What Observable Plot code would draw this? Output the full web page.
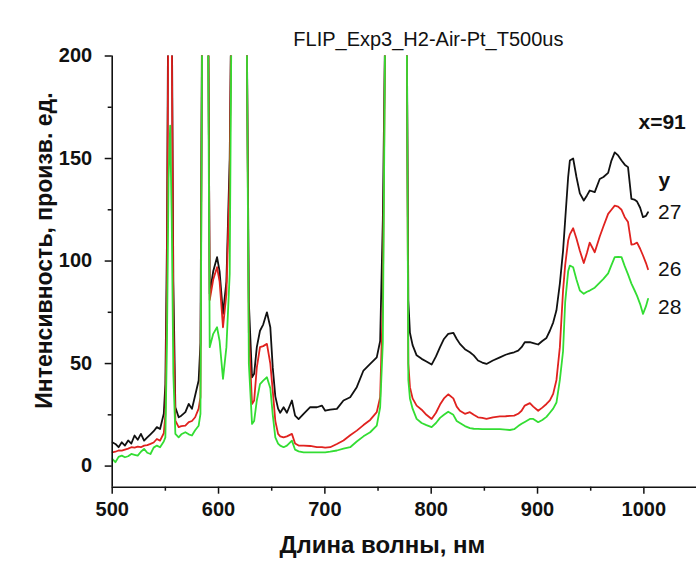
<!DOCTYPE html>
<html><head><meta charset="utf-8">
<script src="https://cdn.jsdelivr.net/npm/d3@7"></script>
<script src="https://cdn.jsdelivr.net/npm/@observablehq/plot@0.6"></script>
<style>body{margin:0;background:#fff} svg{display:block}</style>
</head><body><div id="chart"></div>
<script>
const wavelength = [
 500,503,506,509,512,515,518,521,524,527,530,533,536,539,542,545,548.5,
 550,551.5,553,554.5,556,557.5,559.4,
 562.5,565,568.8,572,575,578,581.3,583,584.5,
 586.5,589.5,591.7,
 595,598.6,601,604.2,607.4,610.5,612.7,
 616,620,624,626.5,628.5,631.5,
 633.5,636,639,642,645.5,648.7,651,653.4,656,658,661.2,
 664.3,669,672,675.3,680,686.2,692.5,697.2,700.3,705,711.3,717.5,723.8,730,736.3,742.6,748.8,752,754.5,
 756.8,760,765,770,775,777,778.5,
 780,782.5,786.3,791,795.5,800.4,804.5,808.3,812,816,
 820.8,824,827,831.7,836.4,840,844,848,852,858,
 864.6,870,874,878,881.8,885,888,892.8,896,900.6,
 904.5,908.4,911.6,914.7,917.8,921,924,926,928.8,930.4,
 933.5,936.6,939.8,943.5,946.5,949.1,953.8,958.5,962,966.4,
 969.5,972.6,975.8,979,982,985.1,988.3,991,993.6,996.5,
 999.2,1002,1003.9
];
const y27 = [
 11.6,10.8,9.2,11.6,10,12.5,11,14.9,12.8,15.7,12.4,14,15.5,17,19,18.1,25.5,
 40,110,260,320,230,90,28.7,
 23.8,24.6,26.3,30.3,27.9,34.4,41.7,60,220,
 500,300,84,
 95,101.9,95,74.2,90,150,260,
 500,500,400,220,80,43.3,
 45,58,66,69,75,67.7,48,34,28,26,28.7,
 26,32,24.6,22.9,25.5,28.7,28.7,29.5,27,27.5,27.9,32,33.6,38.5,46.6,49.8,53,61,120,
 220,600,700,600,400,220,80.7,
 65,59,54,52.3,51,49.5,53.5,58,62,64.5,
 65,62,59.6,57,55.5,54,51.5,50.5,49.8,51.5,
 53,54.3,55,55.5,56.3,58,60.4,60.4,60,59.3,
 61,62.5,66,70,76,89,105,120,141,149,
 150,141,133,129.5,132,134.4,133.6,140,141,143,
 149,153,151.5,149,147,145.8,130.3,130,129,126,
 121.4,122,123.8
];
const y26 = [
 6.7,7,7.6,7.5,8,8.5,9.2,9,9.5,9.2,10,10.2,10.8,11.5,13.2,12.4,16,
 25,90,240,300,215,70,22.2,
 19,19.5,19.7,21.4,22,23.8,28,33.6,210,
 500,300,81,
 91,97,90,67.7,84,140,260,
 500,500,400,220,65,30.3,
 32,48,58,58.5,59.6,50,36.8,22,15.7,14.5,14,
 14.5,15.7,11,10,10,9.8,9.2,9.2,9,9.2,10.8,12.5,15,17.3,20,22.5,26.3,33.6,80,
 220,600,700,600,400,220,50,
 38.5,33,29.5,27.5,25,23,26,30,33,35,
 33,29,27,25.5,26.3,25,23.8,23.5,23,23.8,
 24.2,24.3,24.5,24.6,25.5,27,29.5,30.7,29,27,
 28.5,30.3,32,35.2,42,58,85.6,98,110,113,
 116,111,105,99,104,109,104.3,112,117,123,
 125,127,126.5,125,121.4,119,108,108.3,109,106,
 102.7,99,96
];
const y28 = [
 3.5,1.9,4.5,5.1,4.3,4.8,5.9,5.5,5.1,7,8.4,6.5,5.9,9,10,9.2,12,
 14,60,140,166,120,45,15.7,
 14,15.5,16.5,15.5,14.9,17.5,19.7,25.5,200,
 500,280,58,
 64.5,67.7,61,42.5,58,93.7,260,
 500,500,400,220,50,20.6,
 22,32,40,41.7,43.3,38,25,14,11,10,9.2,
 10,12.4,8,7.2,6.7,6.7,6.7,6.7,6.7,7,7.6,8.5,9.2,12,14.5,16.5,19.7,28.7,60,
 220,600,700,600,400,220,42,
 33,28,23,21,20,19,21,23.5,25,26.5,
 25,22,21,19.5,18.5,18.2,18.1,18,18,18,
 18,17.8,17.6,18,19.5,20.6,21.5,23,23,21.4,
 22.5,24,26,28,31,42,56,80,95,97.8,
 97,91,85.6,84,85,85.6,87,89.5,91.3,94,
 98,101.9,102,101.9,97.5,93.5,89,86,83,79,
 74.2,78,81.5
];
const seriesNames = ["27", "26", "28"];
const seriesColors = ["#111111", "#e0221f", "#33dd33"];
const xTicks = [500, 600, 700, 800, 900, 1000];
const xMinorTicks = [550, 650, 750, 850, 950];
const yTicks = [0, 50, 100, 150, 200];
const yMinorTicks = [25, 75, 125, 175];
const xDomain = [500, 1049.5];
const yDomain = [-10.3, 200];
const titleText = "FLIP_Exp3_H2-Air-Pt_T500us";
const xLabel = "Длина волны, нм";
const yLabel = "Интенсивность, произв. ед.";
const legendTitle = "x=91";
const legendSub = "y";

const series = [y27, y26, y28];
const labelNudge = [0, 0, 8];
const last = wavelength.length - 1;

const lineMarks = series.map((vals, i) =>
  Plot.lineY(wavelength.map((w, j) => ({w, v: vals[j]})),
    {x: "w", y: "v", stroke: seriesColors[i], strokeWidth: 1.8, clip: true, strokeLinejoin: "round"}));
const endLabels = series.map((vals, i) =>
  Plot.text([{w: wavelength[last], v: vals[last], s: seriesNames[i]}],
    {x: "w", y: "v", text: "s", dx: 10, dy: labelNudge[i], textAnchor: "start", fontSize: 21, fill: "#111"}));

const chart = Plot.plot({
  width: 696, height: 566,
  marginLeft: 111.7, marginRight: 0, marginTop: 55.5, marginBottom: 79.3,
  x: {domain: xDomain},
  y: {domain: yDomain},
  style: {fontFamily: "'Liberation Sans', Arial, sans-serif", background: "#fff", color: "#111"},
  marks: [
    ...lineMarks,
    Plot.ruleX([xDomain[0]], {stroke: "#111", strokeWidth: 1.6}),
    Plot.ruleY([yDomain[0]], {stroke: "#111", strokeWidth: 1.6}),
    Plot.axisX(xTicks, {tickSize: 7, tickPadding: 8, fontSize: 20, fontWeight: "bold", strokeWidth: 1.5, label: null, tickFormat: d => String(d)}),
    Plot.axisX(xMinorTicks, {tickSize: 4, strokeWidth: 1.5, label: null, text: null}),
    Plot.axisY(yTicks, {tickSize: 7, tickPadding: 13, fontSize: 20, fontWeight: "bold", strokeWidth: 1.5, label: null, tickFormat: d => String(d)}),
    Plot.axisY(yMinorTicks, {tickSize: 4, strokeWidth: 1.5, label: null, text: null}),
    Plot.text([titleText], {frameAnchor: "top", text: d => d, dx: 24, dy: -24, fontSize: 20, fill: "#111"}),
    Plot.text([xLabel], {frameAnchor: "bottom", text: d => d, dx: -22, dy: 66, fontSize: 24, fontWeight: "bold", fill: "#111"}),
    Plot.text([yLabel], {frameAnchor: "left", text: d => d, textAnchor: "middle", dx: -68, dy: -21, rotate: -90, fontSize: 23, fontWeight: "bold", fill: "#111"}),
    Plot.text([legendTitle], {frameAnchor: "top-right", text: d => d, textAnchor: "start", dx: -58, dy: 58, fontSize: 21, fontWeight: "bold", fill: "#111"}),
    Plot.text([legendSub], {frameAnchor: "top-right", text: d => d, textAnchor: "start", dx: -38, dy: 116, fontSize: 21, fontWeight: "bold", fill: "#111"}),
    ...endLabels
  ]
});
document.getElementById("chart").append(chart);
</script>
</body></html>
